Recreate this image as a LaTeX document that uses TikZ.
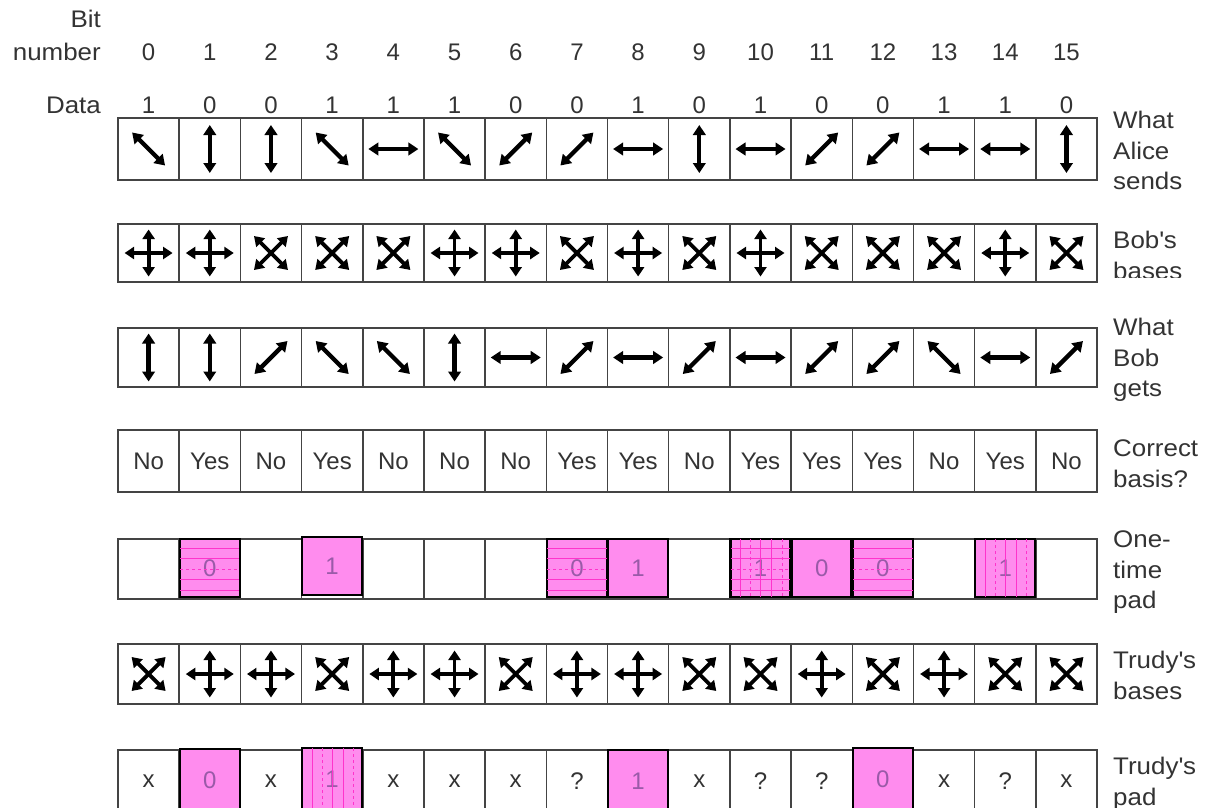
\documentclass[tikz,border=0pt]{standalone}
\usepackage{fontspec}
\setmainfont{Liberation Sans}
\newfontfamily\lblfont[FakeStretch=1.08]{Liberation Sans}
\usetikzlibrary{arrows.meta,calc}
\definecolor{txt}{HTML}{333333}
\definecolor{gridc}{HTML}{444444}
\definecolor{pinkf}{HTML}{FF8CEE}
\definecolor{pinkt}{HTML}{9A5AA8}
\definecolor{hatchc}{HTML}{FF33CC}
\tikzset{
  arr/.style={line width=4.3pt,{Triangle[length=10pt,width=12.5pt]}-{Triangle[length=10pt,width=12.5pt]}},
  arrx/.style={line width=3.8pt,{Triangle[length=9.5pt,width=12pt]}-{Triangle[length=9.5pt,width=12pt]}},
  cellbox/.style={draw=gridc,line width=1.5pt,minimum width=61.19pt,inner sep=0pt,anchor=center,text=txt},
  pinkbox/.style={draw=black,line width=2.4pt,fill=pinkf,minimum width=60pt,inner sep=0pt,text=pinkt},
  hatch/.style={draw=hatchc,line width=0.8pt},
  rlabel/.style={anchor=north west,align=left,inner sep=0pt,text=txt,font=\lblfont\fontsize{24}{30.5}\selectfont},
  llabel/.style={anchor=base east,inner sep=0pt,text=txt,font=\lblfont\fontsize{24}{30.5}\selectfont},
  numlabel/.style={anchor=base,inner sep=0pt,text=txt}
}
\newcommand\symhz[1]{\draw[arr] ([shift={(-25,0)}]#1.center) -- ([shift={(25,0)}]#1.center);}
\newcommand\symvt[1]{\draw[arr] ([shift={(0,-24)}]#1.center) -- ([shift={(0,24)}]#1.center);}
\newcommand\symbsl[1]{\draw[arr] ([shift={(-16.5,-16.5)}]#1.center) -- ([shift={(16.5,16.5)}]#1.center);}
\newcommand\symfsl[1]{\draw[arr] ([shift={(-16.5,16.5)}]#1.center) -- ([shift={(16.5,-16.5)}]#1.center);}
\newcommand\sympl[1]{\draw[arrx] ([shift={(-24,0)}]#1.center) -- ([shift={(24,0)}]#1.center);
  \draw[arrx] ([shift={(0,-23.5)}]#1.center) -- ([shift={(0,23.5)}]#1.center);}
\newcommand\symcr[1]{\draw[arrx] ([shift={(-17,-17)}]#1.center) -- ([shift={(17,17)}]#1.center);
  \draw[arrx] ([shift={(-17,17)}]#1.center) -- ([shift={(17,-17)}]#1.center);}
\newcommand\hhatch[1]{\foreach \d/\st in {-20/solid,-9.5/solid,1/dashed,11.5/solid,22/solid}
  {\draw[hatch,\st] ([shift={(1.5,\d)}]#1.west) -- ([shift={(-1.5,\d)}]#1.east);}}
\newcommand\vhatch[1]{\foreach \d/\st in {-20/solid,-10/dashed,0/solid,11/solid,21.5/dashed}
  {\draw[hatch,\st] ([shift={(\d,1.5)}]#1.north) -- ([shift={(\d,-1.5)}]#1.south);}}
\begin{document}
\begin{tikzpicture}[x=1pt,y=-1pt,font=\fontsize{24}{30.5}\selectfont]
\clip (0,0) rectangle (1205,807);
\fill[white] (0,0) rectangle (1205,807);
% left labels
\node[llabel] (lbit) at (101,27) {Bit};
\node[llabel] (lnum) at (101,60) {number};
\node[llabel] (ldata) at (101,113.5) {Data};
% bit numbers and data
\foreach \v [count=\i from 0] in {1,0,0,1,1,1,0,0,1,0,1,0,0,1,1,0} {
  \pgfmathsetmacro\cx{148.6+61.19*\i}
  \node[numlabel] (n\i) at (\cx,60) {\i};
  \node[numlabel] (d\i) at (\cx,113.5) {\v};
}
% row 1: What Alice sends
\foreach \s [count=\i from 0] in {bsl,vt,vt,bsl,hz,bsl,fsl,fsl,hz,vt,hz,fsl,fsl,hz,hz,vt} {
  \pgfmathsetmacro\cx{148.6+61.19*\i}
  \node[cellbox,minimum height=62pt] (a\i) at (\cx,149) {};
  \csname sym\s\endcsname{a\i}
}
% row 2: Bob's bases
\foreach \s [count=\i from 0] in {pl,pl,cr,cr,cr,pl,pl,cr,pl,cr,pl,cr,cr,cr,pl,cr} {
  \pgfmathsetmacro\cx{148.6+61.19*\i}
  \node[cellbox,minimum height=58pt] (b\i) at (\cx,253) {};
  \csname sym\s\endcsname{b\i}
}
% row 3: What Bob gets
\foreach \s [count=\i from 0] in {vt,vt,fsl,bsl,bsl,vt,hz,fsl,hz,fsl,hz,fsl,fsl,bsl,hz,fsl} {
  \pgfmathsetmacro\cx{148.6+61.19*\i}
  \node[cellbox,minimum height=59pt] (g\i) at (\cx,357.5) {};
  \csname sym\s\endcsname{g\i}
}
% row 4: Correct basis?
\foreach \s [count=\i from 0] in {No,Yes,No,Yes,No,No,No,Yes,Yes,No,Yes,Yes,Yes,No,Yes,No} {
  \pgfmathsetmacro\cx{148.6+61.19*\i}
  \node[cellbox,minimum height=62pt] (c\i) at (\cx,461) {\s};
}
% row 5: One-time pad
\foreach \i in {0,...,15} {
  \pgfmathsetmacro\cx{148.6+61.19*\i}
  \node[cellbox,minimum height=60pt] (p\i) at (\cx,569) {};
}
\node[pinkbox,minimum height=58pt] (pk1) at (p1.center |- 0,568) {0};
\hhatch{pk1}
\node[pinkbox,minimum height=58pt] (pk3) at (p3.center |- 0,566) {1};
\node[pinkbox,minimum height=58pt] (pk7) at (p7.center |- 0,568) {0};
\hhatch{pk7}
\node[pinkbox,minimum height=58pt] (pk8) at (p8.center |- 0,568) {1};
\node[pinkbox,minimum height=58pt] (pk10) at (p10.center |- 0,568) {1};
\hhatch{pk10}\vhatch{pk10}
\node[pinkbox,minimum height=58pt] (pk11) at (p11.center |- 0,568) {0};
\node[pinkbox,minimum height=58pt] (pk12) at (p12.center |- 0,568) {0};
\hhatch{pk12}
\node[pinkbox,minimum height=58pt] (pk14) at (p14.center |- 0,568) {1};
\vhatch{pk14}
% row 6: Trudy's bases
\foreach \s [count=\i from 0] in {cr,pl,pl,cr,pl,pl,cr,pl,pl,cr,cr,pl,cr,pl,cr,cr} {
  \pgfmathsetmacro\cx{148.6+61.19*\i}
  \node[cellbox,minimum height=60pt] (t\i) at (\cx,674) {};
  \csname sym\s\endcsname{t\i}
}
% row 7: Trudy's pad
\foreach \s [count=\i from 0] in {x,,x,,x,x,x,?,,x,?,?,,x,?,x} {
  \pgfmathsetmacro\cx{148.6+61.19*\i}
  \node[cellbox,minimum height=62pt] (q\i) at (\cx,781) {\s};
}
\node[pinkbox,minimum height=62pt] (qk1) at (q1.center |- 0,780) {0};
\node[pinkbox,minimum height=62pt] (qk3) at (q3.center |- 0,779) {1};
\vhatch{qk3}
\node[pinkbox,minimum height=62pt] (qk8) at (q8.center |- 0,781) {1};
\node[pinkbox,minimum height=62pt] (qk12) at (q12.center |- 0,779) {0};
% right labels
\node[rlabel] (ra) at (1113,111) {What\\Alice\\sends};
\begin{scope}
  \clip (1100,200) rectangle (1205,277.5);
  \node[rlabel] (rb) at (1113,231) {Bob\textquotesingle s\\bases};
\end{scope}
\node[rlabel] (rg) at (1113,318) {What\\Bob\\gets};
\node[rlabel] (rc) at (1113,440) {Correct\\basis?};
\node[rlabel] (rp) at (1113,531) {One-\\time\\pad};
\node[rlabel] (rt) at (1113,651) {Trudy\textquotesingle s\\bases};
\node[rlabel] (rq) at (1113,757) {Trudy\textquotesingle s\\pad};
\end{tikzpicture}
\end{document}
